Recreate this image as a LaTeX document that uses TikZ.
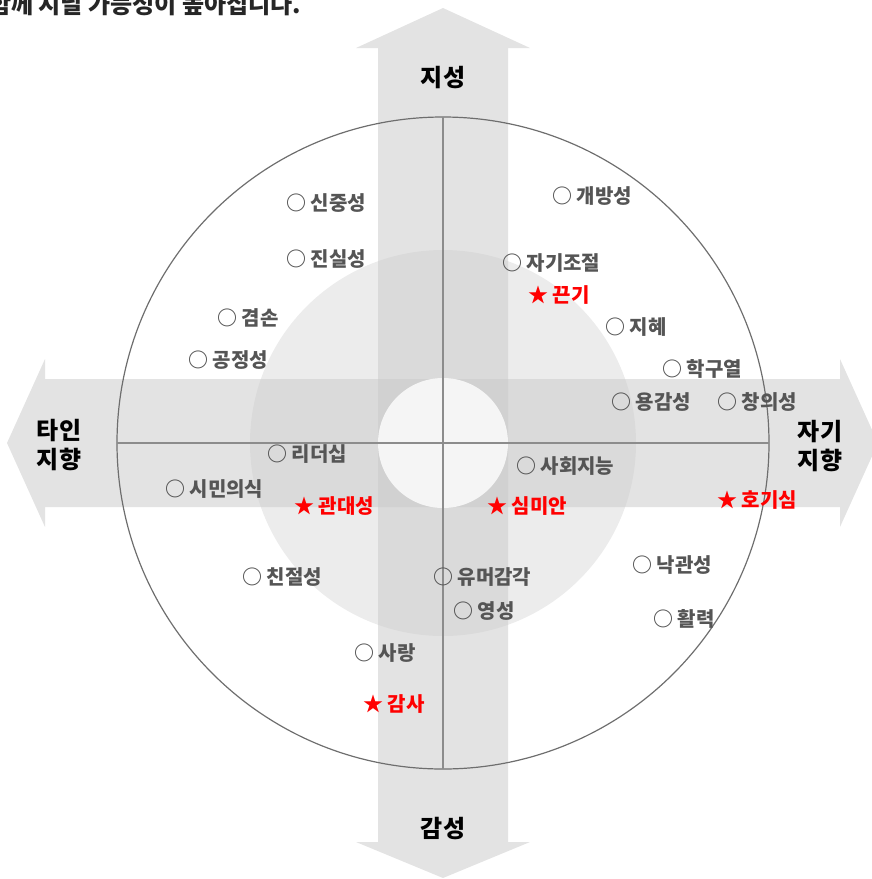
\documentclass[tikz,border=0pt]{standalone}
\usepackage{fontspec}
\usepackage{xcolor}
\usepackage{tikz}
\usetikzlibrary{positioning}
\newfontfamily\kr{Noto Sans CJK KR}
\definecolor{bandgray}{RGB}{202,202,202}
\definecolor{discgray}{RGB}{236,236,236}
\definecolor{coregray}{RGB}{245,245,245}
\definecolor{itemgray}{RGB}{85,85,85}
\definecolor{rimgray}{RGB}{110,110,110}
\definecolor{axisgray}{RGB}{140,140,140}
\tikzset{
  item/.style={anchor=west, inner sep=0pt, font=\kr\bfseries\fontsize{20}{24}\selectfont, text=itemgray},
  key/.style={item, text=red},
  pole/.style={inner sep=0pt, align=center, font=\kr\bfseries\fontsize{24}{29}\selectfont, text=black},
  band/.style={fill=bandgray, fill opacity=0.53, draw=none}
}

\begin{document}
\begin{tikzpicture}[x=1pt,y=-1pt]
\useasboundingbox (0,0) rectangle (871,879);

\fill[discgray] (443,443) circle (193pt);
\fill[band] (45,379) -- (45,359) -- (7,443) -- (45,527) -- (45,507) -- (840,507)
  -- (840,527) -- (878,443) -- (840,359) -- (840,379) -- cycle;
\fill[band] (378,48) -- (356,48) -- (443,8) -- (530,48) -- (508,48) -- (508,842)
  -- (530,842) -- (443,878) -- (356,842) -- (378,842) -- cycle;
\fill[coregray] (443,443) circle (65pt);

\node[circle, draw=rimgray, line width=1.2pt, minimum size=652pt, inner sep=0pt, outer sep=0pt] (rim) at (443,443) {};
\draw[axisgray, line width=1.5pt] (rim.north) -- (rim.south);
\draw[axisgray, line width=1.5pt] (rim.west) -- (rim.east);

\node[pole] (think) at (443,78) {지성};
\node[pole] (feel) at (443,829) {감성};
\node[pole] (others) at (59,445) {타인\\지향};
\node[pole] (self) at (820,446) {자기\\지향};

\node[anchor=base west, inner sep=0pt, font=\kr\bfseries\fontsize{24}{28}\selectfont, text=black!85] (note) at (-11,13) {함께 지닐 가능성이 높아집니다.};

\foreach \x/\y/\t [count=\i] in {296/203/신중성, 296/259/진실성, 227/318/겸손, 198/360/공정성,
    562/196/개방성, 512/263/자기조절, 615/327/지혜, 672/369/학구열, 621/402/용감성,
    727/402/창의성, 277/454/리더십, 175/489/시민의식, 252/577/친절성, 364/653/사랑,
    443/577/유머감각, 463/611/영성, 642/565/낙관성, 663/619/활력, 526/466/사회지능}
  \node[item] (v\i) at (\x-10,\y) {○ \t};

\foreach \x/\y/\t [count=\i] in {538/295/끈기, 304/506/관대성, 497/506/심미안,
    727/500/호기심, 373/704/감사}
  \node[key] (k\i) at (\x-10,\y) {★ \t};
\end{tikzpicture}
\end{document}
